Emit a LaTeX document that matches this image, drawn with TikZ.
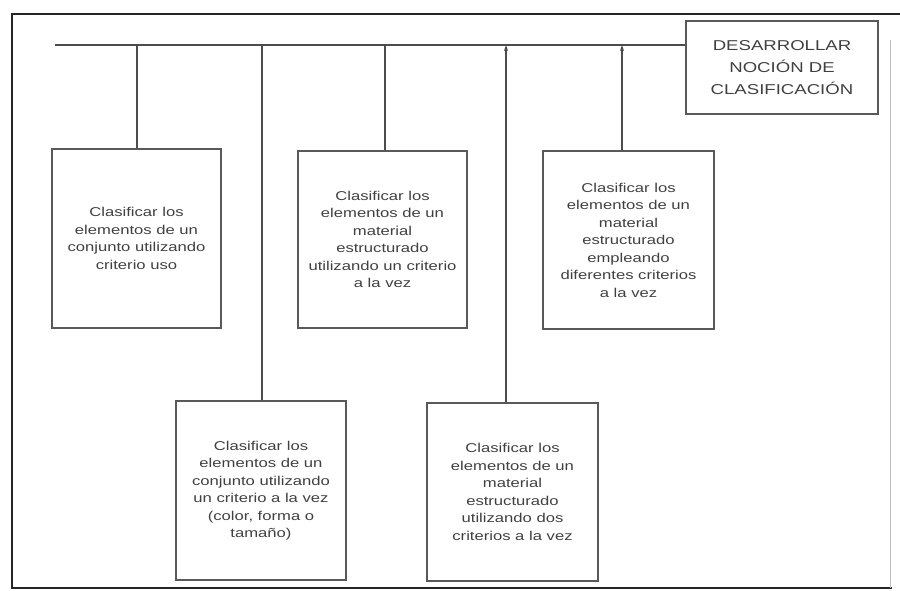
\documentclass[tikz,border=0pt]{standalone}
\usepackage{fontspec}
\setmainfont{Liberation Sans}[FakeStretch=1.3]
\usetikzlibrary{arrows.meta}
\tikzset{
  frame/.style={draw=black!85, line width=1.4pt},
  link/.style={draw=black!70, line width=1.1pt},
  box/.style={draw=black!65, line width=1.2pt, rectangle, align=center, inner sep=0pt,
     text=black!75, font=\fontsize{12.8}{17.5}\selectfont},
  titlebox/.style={box, font=\fontsize{14.3}{22}\selectfont},
  tip/.style={-{Stealth[length=6pt,width=4pt]}}
}
\begin{document}
\begin{tikzpicture}[x=1pt,y=-1pt]
\useasboundingbox (0,0) rectangle (900,590);
% outer frame
\coordinate (ftl) at (12,14);
\coordinate (ftr) at (900,14);
\coordinate (fbl) at (12,588);
\coordinate (fbr) at (892,588);
\draw[frame] (ftr) -- (ftl) -- (fbl) -- (fbr);
\draw[black!25, line width=0.8pt] (890,40) -- (890,588);

\node[titlebox, minimum width=192pt, minimum height=93pt] (t) at (782,67.5)
  {DESARROLLAR\\NOCIÓN DE\\CLASIFICACIÓN};

\node[box, minimum width=169pt, minimum height=179pt] (b1) at (136.5,238.5)
  {Clasificar los\\elementos de un\\conjunto utilizando\\criterio uso};
\node[box, minimum width=169pt, minimum height=177pt] (b2) at (382.5,239.5)
  {Clasificar los\\elementos de un\\material\\estructurado\\utilizando un criterio\\a la vez};
\node[box, minimum width=171pt, minimum height=178pt] (b3) at (628.5,240)
  {Clasificar los\\elementos de un\\material\\estructurado\\empleando\\diferentes criterios\\a la vez};
\node[box, minimum width=170pt, minimum height=179pt] (b4) at (261,490.5)
  {Clasificar los\\elementos de un\\conjunto utilizando\\un criterio a la vez\\(color, forma o\\tamaño)};
\node[box, minimum width=171pt, minimum height=178pt] (b5) at (512.5,492)
  {Clasificar los\\elementos de un\\material\\estructurado\\utilizando dos\\criterios a la vez};

% main horizontal line
\coordinate (hs) at (55,45);
\draw[link] (hs) -- (t.west |- hs);
\coordinate (h1) at (137,45);
\coordinate (h4) at (262,45);
\coordinate (h2) at (385,45);
\coordinate (h5) at (506,45);
\coordinate (h3) at (622,45);
\draw[link] (h1) -- (h1 |- b1.north);
\draw[link] (h4) -- (h4 |- b4.north);
\draw[link] (h2) -- (h2 |- b2.north);
\draw[link, tip] (h5 |- b5.north) -- (h5);
\draw[link, tip] (h3 |- b3.north) -- (h3);
\end{tikzpicture}
\end{document}
